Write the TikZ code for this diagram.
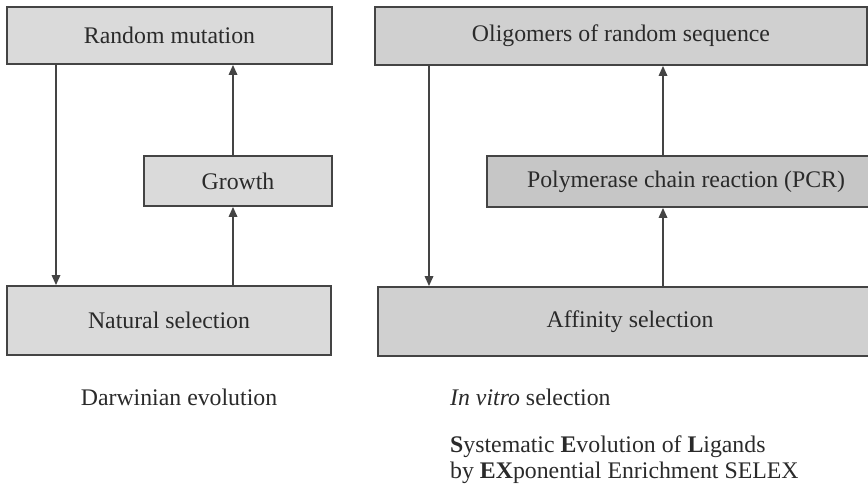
\documentclass[tikz,border=0pt]{standalone}
\usepackage{fontspec}
\setmainfont{Liberation Serif}
\usetikzlibrary{arrows.meta}
\definecolor{ink}{HTML}{2A2A2A}
\definecolor{edge}{HTML}{444444}
\definecolor{fillA}{HTML}{DADADA}
\definecolor{fillB}{HTML}{D0D0D0}
\definecolor{fillC}{HTML}{C6C6C6}
\tikzset{
  box/.style={draw=edge, line width=1.8pt, rectangle, inner sep=0pt,
    text=ink, font=\fontsize{23.8}{28}\selectfont},
  flow/.style={draw=edge, line width=1.7pt,
    -{Triangle[length=10pt,width=8.5pt]}},
  caption/.style={text=ink, inner sep=0pt, font=\fontsize{23.8}{28}\selectfont}
}
\begin{document}
\begin{tikzpicture}[x=1pt,y=-1pt]
\useasboundingbox (0,0) rectangle (868,486);
\clip (0,0) rectangle (868,486);

% Darwinian evolution
\node[box, fill=fillA, minimum width=325pt, minimum height=57pt] (rm) at (169.5,35.5) {Random mutation};
\node[box, fill=fillA, minimum width=188pt, minimum height=50pt] (gr) at (238,181) {Growth};
\node[box, fill=fillA, minimum width=324pt, minimum height=69pt] (ns) at (169,320.5) {Natural selection};
\coordinate (xl) at (56,0);
\coordinate (xr) at (233,0);
\draw[flow] (xl |- rm.south) -- (xl |- ns.north);
\draw[flow] (xr |- ns.north) -- (xr |- gr.south);
\draw[flow] (xr |- gr.north) -- (xr |- rm.south);
\node[caption] (dar) at (179,397) {Darwinian evolution};

% In vitro selection (SELEX)
\node[box, fill=fillB, minimum width=492pt, minimum height=58pt] (ol) at (621,36) {Oligomers of random sequence};
\node[box, fill=fillC, minimum width=398pt, minimum height=51pt] (pcr) at (686,181.5) {Polymerase chain reaction (PCR)};
\node[box, fill=fillB, minimum width=504pt, minimum height=69pt] (af) at (630,321.5) {Affinity selection};
\coordinate (xL) at (429,0);
\coordinate (xR) at (663,0);
\draw[flow] (xL |- ol.south) -- (xL |- af.north);
\draw[flow] (xR |- af.north) -- (xR |- pcr.south);
\draw[flow] (xR |- pcr.north) -- (xR |- ol.south);
\node[caption, anchor=west] (ivs) at (450,397) {\textit{In vitro} selection};
\node[caption, anchor=west] (sel1) at (450,447) {\textbf{S}ystematic \textbf{E}volution of \textbf{L}igands};
\node[caption, anchor=west] (sel2) at (450,473) {by \textbf{EX}ponential Enrichment SELEX};
\end{tikzpicture}
\end{document}
